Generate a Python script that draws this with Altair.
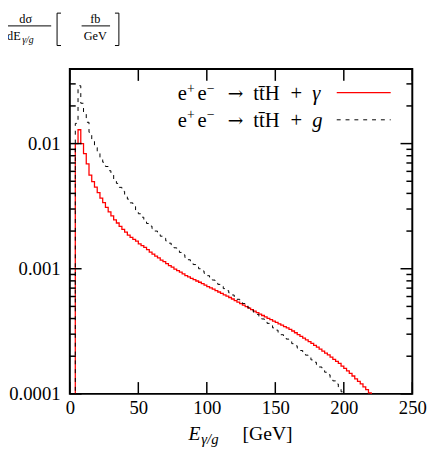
import altair as alt
import pandas as pd

# ---------------- data ----------------
bin_width = 2  # GeV
red_start = 4
red_vals = [
    0.0100, 0.0129, 0.0100, 0.0083, 0.0069, 0.0056, 0.00496, 0.00449, 0.00406, 0.00367,
    0.00337, 0.00309, 0.00285, 0.00264, 0.00246, 0.00232, 0.00218, 0.00206, 0.00196, 0.00186,
    0.00178, 0.00172, 0.00166, 0.00158, 0.00153, 0.00148, 0.00142, 0.00136, 0.00131, 0.00126,
    0.00122, 0.00117, 0.00114, 0.00110, 0.00106, 0.00103, 0.000995, 0.000966, 0.000938, 0.00091,
    0.00088, 0.00086, 0.000838, 0.000818, 0.000798, 0.00078, 0.00076, 0.000741, 0.000721, 0.000703,
    0.000686, 0.000668, 0.000652, 0.000635, 0.000619, 0.000604, 0.000589, 0.000573, 0.000557, 0.000542,
    0.000527, 0.000513, 0.000499, 0.000484, 0.000471, 0.000458, 0.000446, 0.000434, 0.000423, 0.000412,
    0.000402, 0.000392, 0.000382, 0.000372, 0.000363, 0.000354, 0.000345, 0.000337, 0.000328, 0.000318,
    0.000308, 0.000298, 0.000288, 0.000279, 0.00027, 0.000262, 0.000253, 0.000244, 0.000236, 0.000228,
    0.00022, 0.000212, 0.000205, 0.000197, 0.000189, 0.000182, 0.000175, 0.000167, 0.00016, 0.000153,
    0.000146, 0.000139, 0.000132, 0.000126, 0.00012, 0.000114, 0.000108, 0.000102,
]
black_start = 4
black_vals = [
    0.0145, 0.029, 0.021, 0.0178, 0.0148, 0.0123, 0.0107, 0.0093, 0.0084, 0.0077,
    0.0071, 0.00656, 0.00607, 0.00561, 0.00519, 0.00481, 0.00447, 0.00415, 0.00386, 0.0036,
    0.00336, 0.00314, 0.00294, 0.00275, 0.00258, 0.00243, 0.0023, 0.00219, 0.00209, 0.002,
    0.00191, 0.00182, 0.00175, 0.00167, 0.0016, 0.00153, 0.00147, 0.0014, 0.00135, 0.00129,
    0.00123, 0.00118, 0.00113, 0.00108, 0.00104, 0.001, 0.00096, 0.00092, 0.00088, 0.000845,
    0.000812, 0.00078, 0.00075, 0.000722, 0.000694, 0.000668, 0.000642, 0.000617, 0.000593, 0.00057,
    0.000548, 0.000527, 0.000507, 0.000487, 0.000468, 0.00045, 0.000432, 0.000414, 0.000397, 0.000381,
    0.000366, 0.000351, 0.000337, 0.000323, 0.00031, 0.000297, 0.000285, 0.000274, 0.000262, 0.000252,
    0.000242, 0.000232, 0.000222, 0.000213, 0.000204, 0.000195, 0.000187, 0.000179, 0.000171, 0.000164,
    0.000157, 0.000149, 0.000142, 0.000135, 0.000127, 0.00012, 0.000112, 0.000104,
]
# legend rows: e⁺e⁻ → tt̄H + γ / g
legend_common = ["e", "+", "e", "\u2212", "\u2192", "tt\u0304H", "+"]
legend_last = ["\u03b3", "g"]

x_major = [0, 50, 100, 150, 200, 250]
y_major = [0.0001, 0.001, 0.01]
y_minor = [0.0002, 0.0003, 0.0004, 0.0005, 0.0006, 0.0007, 0.0008, 0.0009,
           0.002, 0.003, 0.004, 0.005, 0.006, 0.007, 0.008, 0.009,
           0.02, 0.03]
x_domain = [0, 250]
y_domain = [0.0001, 0.0394]

# ---------------- layout ----------------
W, H = 349, 331
FONT = "Liberation Serif"
FLOOR = 1e-6  # below the axis floor; clipped off


def hist_frame(vals, start):
    rows = [{"E": start - bin_width, "v": FLOOR, "o": 0}]
    for i, v in enumerate(vals):
        rows.append({"E": start + bin_width * i, "v": v, "o": i + 1})
    rows.append({"E": start + bin_width * len(vals), "v": FLOOR, "o": len(vals) + 1})
    return pd.DataFrame(rows)


df_red = hist_frame(red_vals, red_start)
df_black = hist_frame(black_vals, black_start)

x_scale = alt.Scale(domain=x_domain, nice=False, zero=False)
y_scale = alt.Scale(type="log", domain=y_domain, nice=False)
x_axis = alt.Axis(values=x_major, format="d", ticks=False, domain=False, grid=False,
                  labelFlush=False, labelFont=FONT, labelFontSize=19, labelColor="black",
                  labelPadding=5, title=None)
y_axis = alt.Axis(values=y_major, format=".4~f", ticks=False, domain=False, grid=False,
                  labelFlush=False, labelFont=FONT, labelFontSize=19, labelColor="black",
                  labelPadding=10, title=None)


def X():
    return alt.X("E:Q", scale=x_scale, axis=x_axis)


def Y():
    return alt.Y("v:Q", scale=y_scale, axis=y_axis)


red = alt.Chart(df_red).mark_line(interpolate="step-after", color="#ff0000",
                                  strokeWidth=1.3, clip=True).encode(
    x=X(), y=Y(), order="o:Q")
black = alt.Chart(df_black).mark_line(interpolate="step-after", color="black",
                                      strokeWidth=1, strokeDash=[4, 5], clip=True).encode(
    x=X(), y=Y(), order="o:Q")

# inward ticks
xt = pd.DataFrame({"E": x_major})
ymaj = pd.DataFrame({"v": y_major})
ymin = pd.DataFrame({"v": y_minor})
tick_style = dict(color="black", strokeWidth=1.5)
ticks = [
    alt.Chart(xt).mark_rule(**tick_style).encode(x=X(), y=alt.value(H), y2=alt.value(H - 12)),
    alt.Chart(xt).mark_rule(**tick_style).encode(x=X(), y=alt.value(0), y2=alt.value(12)),
    alt.Chart(ymaj).mark_rule(**tick_style).encode(y=Y(), x=alt.value(0), x2=alt.value(12)),
    alt.Chart(ymaj).mark_rule(**tick_style).encode(y=Y(), x=alt.value(W), x2=alt.value(W - 12)),
    alt.Chart(ymin).mark_rule(**tick_style).encode(y=Y(), x=alt.value(0), x2=alt.value(6)),
    alt.Chart(ymin).mark_rule(**tick_style).encode(y=Y(), x=alt.value(W), x2=alt.value(W - 6)),
]

one = pd.DataFrame({"a": [0]})


def txt(s, x, y, size=18, align="left", baseline="alphabetic", style="normal", font=FONT):
    return alt.Chart(one).mark_text(align=align, baseline=baseline, font=font,
                                    fontSize=size, fontStyle=style, color="black").encode(
        x=alt.value(x), y=alt.value(y), text=alt.value(s))


def seg(x1, y1, x2, y2, color="black", width=1.0, dash=None):
    kw = dict(color=color, strokeWidth=width)
    if dash:
        kw["strokeDash"] = dash
    return alt.Chart(one).mark_rule(**kw).encode(
        x=alt.value(x1), y=alt.value(y1), x2=alt.value(x2), y2=alt.value(y2))


def legend_row(last, base):
    e1, p, e2, m, arr, tth, plus = legend_common
    return [
        txt(e1, 110, base, size=21),
        txt(p, 119.5, base - 8, size=14),
        txt(e2, 130, base, size=21),
        txt(m, 139.5, base - 8, size=14),
        txt(arr, 161, base, size=19, font="DejaVu Serif"),
        txt(tth, 187, base, size=21),
        txt(plus, 225, base, size=21),
        txt(last, 247, base, size=21, style="italic"),
    ]


legend = (legend_row(legend_last[0], 32) + [seg(272, 24, 327, 24, color="#ff0000", width=1.3)]
          + legend_row(legend_last[1], 59) + [seg(272, 51.7, 327, 51.7, dash=[4, 5])])

# x title: E_{γ/g} [GeV]
x_title = [
    txt("E", 121, 378, size=20, style="italic"),
    txt("\u03b3/g", 134, 382, size=15, style="italic"),
    txt("[GeV]", 176, 378, size=20),
]

# y title: dσ/dE_{γ/g} [fb/GeV]
y_title = [
    txt("d\u03c3", -45, -46.5, size=12.5, align="center"),
    seg(-68, -44, -19, -44),
    txt("dE", -57, -30, size=12.5, align="center"),
    txt("\u03b3/g", -48.5, -27, size=10, style="italic"),
    seg(-13, -57, -13, -24), seg(-13, -57, -9, -57), seg(-13, -24, -9, -24),
    txt("fb", 26, -46.5, size=12.5, align="center"),
    seg(12, -44, 41, -44),
    txt("GeV", 26, -30, size=12.5, align="center"),
    seg(50, -57, 50, -24), seg(50, -57, 46, -57), seg(50, -24, 46, -24),
]

chart = alt.layer(red, black, *ticks, *legend, *x_title, *y_title).properties(
    width=W, height=H,
    autosize=alt.AutoSizeParams(type="none"),
    padding={"left": 63, "top": 58, "right": 16, "bottom": 56},
).configure_view(stroke="black", strokeWidth=2)

chart.save("out.html", embed_options={"renderer": "svg", "actions": False})
